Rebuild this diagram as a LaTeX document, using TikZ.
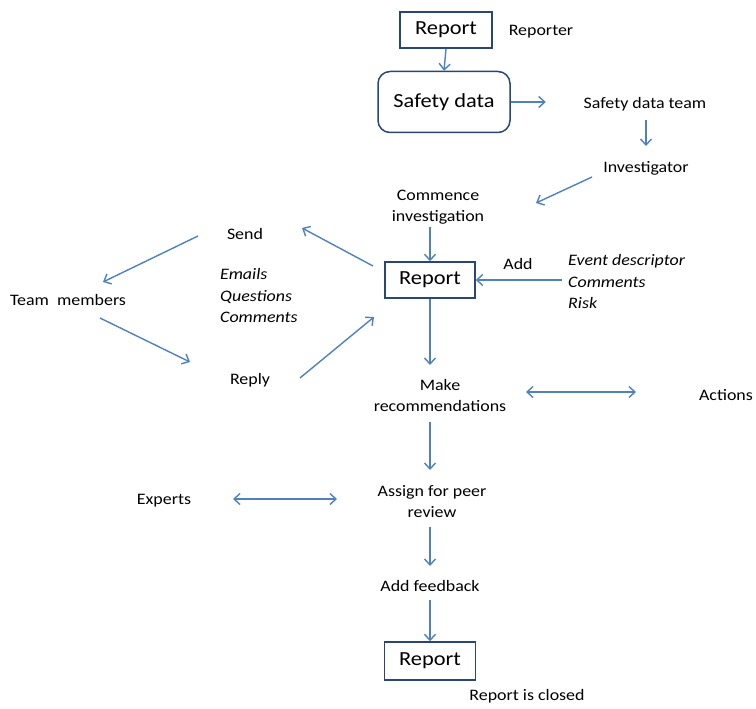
\documentclass[tikz,border=0pt]{standalone}
\usepackage{fontspec}
\setmainfont[FakeStretch=1.12]{Carlito}
\usetikzlibrary{arrows.meta}
\definecolor{arr}{RGB}{79,129,189}
\definecolor{boxc}{RGB}{40,70,120}
\tikzset{
  lbl/.style={font=\fontsize{16}{21}\selectfont, inner sep=1pt, align=center, yshift=-2pt},
  ilbl/.style={font=\fontsize{16}{21.5}\selectfont\itshape, inner sep=1pt, align=left, anchor=west, yshift=-2pt},
  rbox/.style={draw=boxc, line width=1.5pt, font=\fontsize{20}{23}\selectfont, minimum width=90pt, minimum height=36pt, inner sep=2pt},
  conn/.style={draw=arr, line width=1.4pt, -{Straight Barb[length=6pt,width=11pt]}},
  dconn/.style={draw=arr, line width=1.4pt, {Straight Barb[length=6pt,width=11pt]}-{Straight Barb[length=6pt,width=11pt]}}
}
\begin{document}
\begin{tikzpicture}[x=1pt,y=-1pt]
\useasboundingbox (0,0) rectangle (756,709);
% nodes
\node[rbox, minimum width=92pt] (r1) at (446,30) {Report};
\node[lbl] (reporter) at (541,30) {Reporter};
\node[rbox, rounded corners=12pt, minimum width=132pt, minimum height=61pt] (sd) at (444,102) {Safety data};
\node[lbl] (sdt) at (645,102) {Safety data team};
\node[lbl] (inv) at (646,166) {Investigator};
\node[lbl] (ci) at (438,205) {Commence\\investigation};
\node[rbox] (r2) at (430,280) {Report};
\node[lbl] (add) at (518,262) {Add};
\node[ilbl] (ev) at (567,280) {Event descriptor\\Comments\\Risk};
\node[lbl] (send) at (245,232) {Send};
\node[ilbl] (em) at (219,294) {Emails\\Questions\\Comments};
\node[lbl] (tm) at (68,298) {Team\ \ members};
\node[lbl] (reply) at (250,378) {Reply};
\node[lbl] (mr) at (440,394) {Make\\recommendations};
\node[lbl] (act) at (726,393) {Actions};
\node[lbl] (ap) at (432,500) {Assign for peer\\review};
\node[lbl] (exp) at (164,499) {Experts};
\node[lbl] (af) at (430,584) {Add feedback};
\node[rbox, minimum width=91pt, minimum height=38pt] (r3) at (430,661) {Report};
\node[lbl] (closed) at (527,694) {Report is closed};
% free ends
\coordinate (c1) at (592,177); \coordinate (c2) at (536,203);
\coordinate (s1) at (373,266); \coordinate (s2) at (302,228);
\coordinate (t1) at (198,236); \coordinate (t2) at (103,282);
\coordinate (u1) at (100,318); \coordinate (u2) at (190,362);
\coordinate (v1) at (300,378); \coordinate (v2) at (374,317);
% connectors
\draw[conn] (r1.south) -- (sd.north);
\draw[conn] (sd.east) -- ++(35,0);
\draw[conn] (646,120) -- (646,146);
\draw[conn] (c1) -- (c2);
\draw[conn] (430,227) -- (r2.north);
\draw[conn] (562,280) -- (r2.east);
\draw[conn] (s1) -- (s2);
\draw[conn] (t1) -- (t2);
\draw[conn] (u1) -- (u2);
\draw[conn] (v1) -- (v2);
\draw[conn] (r2.south) -- (430,365);
\draw[dconn] (526,392) -- (636,392);
\draw[conn] (430,422) -- (430,470);
\draw[dconn] (233,499) -- (337,499);
\draw[conn] (430,527) -- (430,566);
\draw[conn] (430,600) -- (r3.north);
\end{tikzpicture}
\end{document}
